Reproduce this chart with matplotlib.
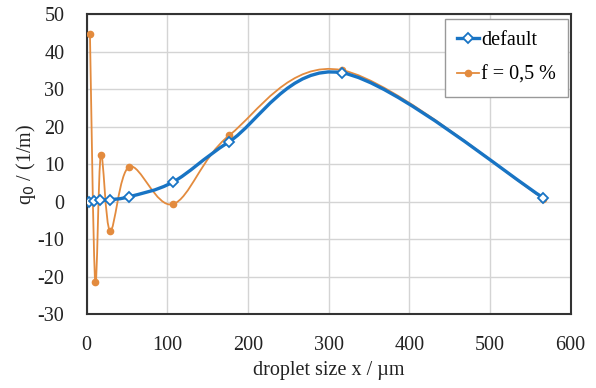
import numpy as np
import matplotlib
matplotlib.use("Agg")
import matplotlib.pyplot as plt
from matplotlib.path import Path
from matplotlib.patches import PathPatch
from matplotlib.lines import Line2D

# data
x_default = [3, 9, 16, 29, 53, 107, 177, 317, 566]
y_default = [0.0, 0.1, 0.3, 0.5, 1.3, 5.2, 16.0, 34.3, 1.0]
x_f = [4, 10.5, 17.5, 29, 53, 107, 177, 317, 566]
y_f = [44.7, -21.4, 12.4, -7.8, 9.3, -0.7, 17.7, 35.0, 0.8]
labels = ["default", "f = 0,5 %"]
xticks = [0, 100, 200, 300, 400, 500, 600]
yticks = [-30, -20, -10, 0, 10, 20, 30, 40, 50]

BLUE = "#1874C4"
ORANGE = "#E38B3E"

plt.rcParams['font.family'] = ['Liberation Serif', 'DejaVu Serif']
plt.rcParams['axes.unicode_minus'] = False
FS = 14.5

def smooth_path(xs, ys):
    p = np.column_stack([xs, ys]).astype(float)
    n = len(p)
    verts = [p[0]]
    codes = [Path.MOVETO]
    for i in range(n - 1):
        p0 = p[i - 1] if i > 0 else p[i]
        p1 = p[i]
        p2 = p[i + 1]
        p3 = p[i + 2] if i + 2 < n else p[i + 1]
        c1 = p1 + (p2 - p0) / 6.0
        c2 = p2 - (p3 - p1) / 6.0
        verts += [c1, c2, p2]
        codes += [Path.CURVE4] * 3
    return Path(verts, codes)

fig = plt.figure(figsize=(5.96, 3.88), dpi=100)
ax = fig.add_axes([0.1455, 0.1907, 0.8120, 0.7732])

ax.add_patch(PathPatch(smooth_path(x_f, y_f), fill=False, edgecolor=ORANGE, lw=1.3, zorder=3))
ax.plot(x_f, y_f, ls='none', marker='o', ms=4.5, color=ORANGE, zorder=4)
ax.add_patch(PathPatch(smooth_path(x_default, y_default), fill=False, edgecolor=BLUE, lw=2.4, zorder=5))
ax.plot(x_default, y_default, ls='none', marker='D', ms=5.5, mfc='white', mec=BLUE, mew=1.3, zorder=6)

ax.set_xlim(0, 600)
ax.set_ylim(-30, 50)
ax.set_xticks(xticks)
ax.set_yticks(yticks)
ax.tick_params(length=0, labelsize=FS, pad=16, colors='#222222')
ax.grid(True, color='#d4d4d4', lw=1.0)
ax.set_axisbelow(True)
for s in ax.spines.values():
    s.set_color('#333333')
    s.set_linewidth(1.5)

ax.set_xlabel("droplet size x / µm", fontsize=FS, labelpad=4, color='#222222')
ax.set_ylabel("q$_0$ / (1/m)", fontsize=FS, labelpad=0, color='#222222')

handles = [
    Line2D([], [], color=BLUE, lw=2.4, marker='D', ms=5.5, mfc='white', mec=BLUE, mew=1.3),
    Line2D([], [], color=ORANGE, lw=1.3, marker='o', ms=4.5),
]
leg = ax.legend(handles, labels, loc='upper right', bbox_to_anchor=(0.994, 0.985),
                borderaxespad=0, fontsize=FS, frameon=True, fancybox=False,
                edgecolor='#999999', framealpha=1, handlelength=1.1,
                handletextpad=0.1, labelspacing=0.8, borderpad=0.6)
leg.get_frame().set_linewidth(1.0)

fig.savefig("out.png", dpi=100)
